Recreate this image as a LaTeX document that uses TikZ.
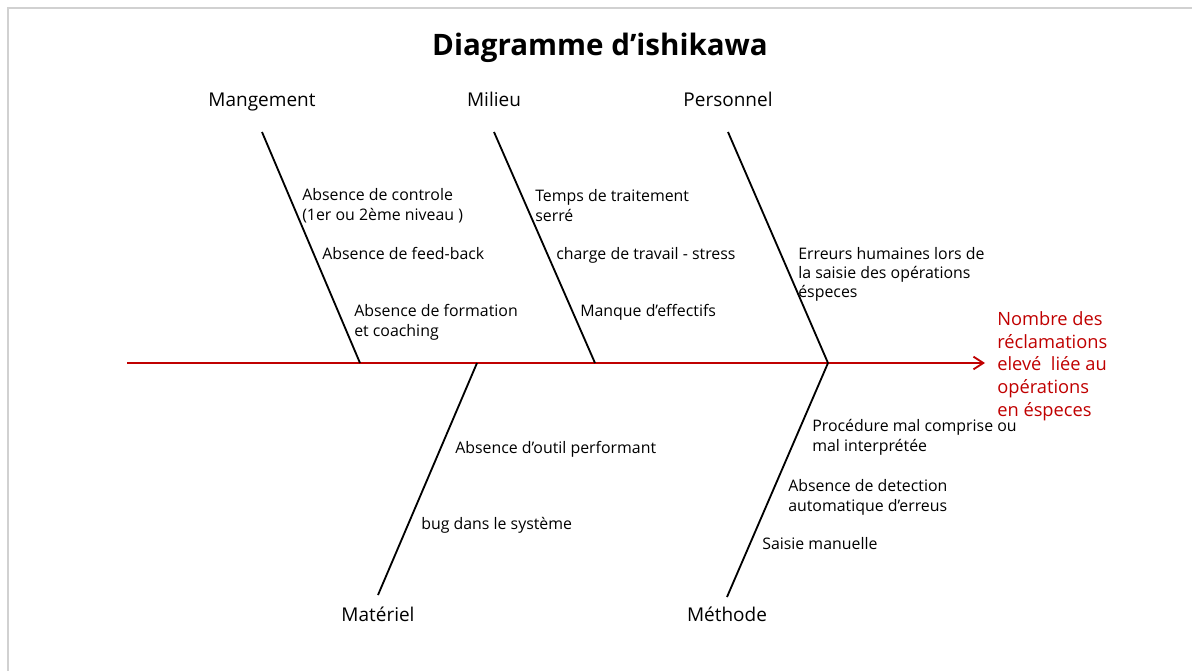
\documentclass[tikz,border=0pt]{standalone}
\usepackage{fontspec}
\setmainfont{Open Sans}
\usetikzlibrary{arrows.meta}
\definecolor{spinered}{RGB}{192,0,0}
\tikzset{
  cause/.style={anchor=base west, align=left, inner sep=0pt, font=\fontsize{11.3}{14.2}\selectfont},
  category/.style={anchor=base, inner sep=0pt, font=\fontsize{13.5}{16}\selectfont},
  bone/.style={line width=1.3pt, black},
}

\begin{document}
\begin{tikzpicture}[x=0.025cm, y=-0.025cm]
\useasboundingbox (0,0) rectangle (1192,671);
\draw[black!18, line width=1.5pt] (8,671) -- (8,8) -- (1192,8);
\node[anchor=base, inner sep=0pt, font=\fontsize{21}{25}\selectfont\bfseries] (title) at (600,55) {Diagramme d'ishikawa};

% spine and effect
\coordinate (tail) at (127,363);
\coordinate (head) at (985,363);
\node[anchor=base west, align=left, inner sep=0pt, text=spinered, font=\fontsize{13}{16.1}\selectfont] (effect) at (997,416) {Nombre des\\réclamations\\elevé\ \ liée au\\opérations\\en éspeces};
\draw[spinered, line width=1.3pt, -{Straight Barb[length=7pt, width=9pt]}] (tail) -- (head);

% top bones
\node[category] (mgt) at (262,106) {Mangement};
\coordinate (mgtT) at (262,132); \coordinate (mgtJ) at (360,363);
\draw[bone] (mgtT) -- (mgtJ);
\node[cause] (mgt1) at (302,220) {Absence de controle\\(1er ou 2ème niveau )};
\node[cause] (mgt2) at (322,259) {Absence de feed-back};
\node[cause] (mgt3) at (354,336) {Absence de formation\\et coaching};

\node[category] (mil) at (494,106) {Milieu};
\coordinate (milT) at (494,132); \coordinate (milJ) at (595,363);
\draw[bone] (milT) -- (milJ);
\node[cause] (mil1) at (535,221) {Temps de traitement\\serré};
\node[cause] (mil2) at (556,259) {charge de travail - stress};
\node[cause] (mil3) at (580,316) {Manque d'effectifs};

\node[category] (per) at (728,106) {Personnel};
\coordinate (perT) at (728,132); \coordinate (perJ) at (828,363);
\draw[bone] (perT) -- (perJ);
\node[cause, font=\fontsize{11.3}{13.5}\selectfont] (per1) at (798,297) {Erreurs humaines lors de\\la saisie des opérations\\éspeces};

% bottom bones
\node[category] (mat) at (378,621) {Matériel};
\coordinate (matJ) at (477,363); \coordinate (matB) at (378,595);
\draw[bone] (matJ) -- (matB);
\node[cause] (mat1) at (455,453) {Absence d'outil performant};
\node[cause] (mat2) at (421,529) {bug dans le système};

\node[category] (met) at (727,621) {Méthode};
\coordinate (metJ) at (828,363); \coordinate (metB) at (727,597);
\draw[bone] (metJ) -- (metB);
\node[cause] (met1) at (812,451) {Procédure mal comprise ou\\mal interprétée};
\node[cause] (met2) at (788,511) {Absence de detection\\automatique d'erreus};
\node[cause] (met3) at (762,549) {Saisie manuelle};
\end{tikzpicture}
\end{document}
